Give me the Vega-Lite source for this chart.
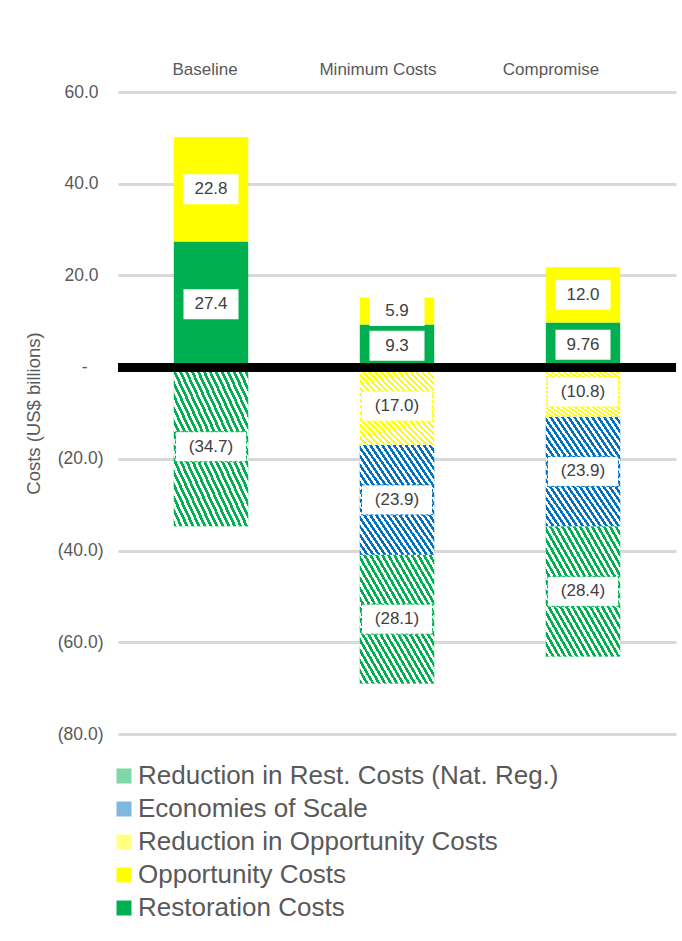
{
  "$schema": "https://vega.github.io/schema/vega-lite/v6.json",
  "autosize": "none",
  "width": 558,
  "height": 642,
  "padding": {"left": 118, "top": 92, "right": 6, "bottom": 207},
  "background": "white",
  "config": {"font": "Liberation Sans", "view": {"stroke": null}},
  "data": {"values": [
    {"scenario": "Baseline", "component": "Restoration Costs", "value": 27.4, "label": "27.4"},
    {"scenario": "Baseline", "component": "Opportunity Costs", "value": 22.8, "label": "22.8"},
    {"scenario": "Baseline", "component": "Reduction in Rest. Costs (Nat. Reg.)", "value": -34.7, "label": "(34.7)"},
    {"scenario": "Minimum Costs", "component": "Restoration Costs", "value": 9.3, "label": "9.3"},
    {"scenario": "Minimum Costs", "component": "Opportunity Costs", "value": 5.9, "label": "5.9"},
    {"scenario": "Minimum Costs", "component": "Reduction in Opportunity Costs", "value": -17.0, "label": "(17.0)"},
    {"scenario": "Minimum Costs", "component": "Economies of Scale", "value": -23.9, "label": "(23.9)"},
    {"scenario": "Minimum Costs", "component": "Reduction in Rest. Costs (Nat. Reg.)", "value": -28.1, "label": "(28.1)"},
    {"scenario": "Compromise", "component": "Restoration Costs", "value": 9.76, "label": "9.76"},
    {"scenario": "Compromise", "component": "Opportunity Costs", "value": 12.0, "label": "12.0"},
    {"scenario": "Compromise", "component": "Reduction in Opportunity Costs", "value": -10.8, "label": "(10.8)"},
    {"scenario": "Compromise", "component": "Economies of Scale", "value": -23.9, "label": "(23.9)"},
    {"scenario": "Compromise", "component": "Reduction in Rest. Costs (Nat. Reg.)", "value": -28.4, "label": "(28.4)"}
  ]},
  "transform": [
    {"calculate": "indexof(['Reduction in Rest. Costs (Nat. Reg.)','Economies of Scale','Reduction in Opportunity Costs','Opportunity Costs','Restoration Costs'], datum.component)", "as": "ord"},
    {"stack": "value", "groupby": ["scenario"], "sort": [{"field": "ord", "order": "descending"}], "as": ["y0", "y1"]},
    {"calculate": "(datum.y0 + datum.y1) / 2", "as": "mid"}
  ],
  "encoding": {
    "x": {
      "field": "scenario", "type": "nominal", "sort": ["Baseline", "Minimum Costs", "Compromise"],
      "scale": {"paddingInner": 0.6, "paddingOuter": 0.3},
      "axis": {"orient": "top", "title": null, "domain": false, "ticks": false, "labelAngle": 0,
        "labelFontSize": 17, "labelColor": "#595959", "labelPadding": 18, "labelBaseline": "alphabetic",
        "labelOffset": {"expr": "datum.value == 'Baseline' ? -6 : datum.value == 'Minimum Costs' ? -19 : -32"}}
    }
  },
  "layer": [
    {
      "mark": {"type": "bar", "strokeWidth": 0},
      "encoding": {
        "y": {"field": "y0", "type": "quantitative",
          "scale": {"domain": [-80, 60], "nice": false, "zero": false},
          "axis": {"values": [-80, -60, -40, -20, 0, 20, 40, 60], "domain": false, "ticks": false,
            "grid": true, "gridColor": "#d9d9d9", "gridWidth": 3,
            "labelFontSize": 17.5, "labelColor": "#595959",
            "labelPadding": {"expr": "datum.value == 0 ? 31 : datum.value > 0 ? 20 : 15"},
            "labelExpr": "datum.value == 0 ? '-' : datum.value < 0 ? '(' + format(-datum.value, '.1f') + ')' : format(datum.value, '.1f')",
            "title": "Costs (US$ billions)", "titleFontSize": 18.5, "titleFontWeight": "normal", "titleColor": "#595959",
            "titleX": -85, "titleBaseline": "middle"}},
        "y2": {"field": "y1"},
        "color": {
          "field": "component", "type": "nominal",
          "scale": {
            "domain": ["Reduction in Rest. Costs (Nat. Reg.)", "Economies of Scale", "Reduction in Opportunity Costs", "Opportunity Costs", "Restoration Costs"],
            "range": ["#7fd7a7", "#7fb7df", "#ffff80", "#FFFF00", "#00B050"]
          },
          "legend": {"orient": "none", "legendX": -7, "legendY": 671, "title": null,
            "labelFontSize": 26, "labelColor": "#595959", "labelLimit": 700,
            "symbolType": "square", "symbolSize": 225, "symbolStrokeWidth": 0,
            "rowPadding": 7, "labelOffset": 1, "padding": 0}
        }
      }
    },
    {
      "transform": [{"filter": "datum.component == 'Reduction in Rest. Costs (Nat. Reg.)'"}],
      "mark": {"type": "bar", "strokeWidth": 0, "color": {"gradient": "linear", "x1": 0, "y1": 1, "x2": 1, "y2": 0, "stops": [
                {"offset":0,"color":"#00B050"},{"offset":0.02,"color":"#00B050"},{"offset":0.02,"color":"#fff"},{"offset":0.04,"color":"#fff"},
                {"offset":0.04,"color":"#00B050"},{"offset":0.06,"color":"#00B050"},{"offset":0.06,"color":"#fff"},{"offset":0.08,"color":"#fff"},
                {"offset":0.08,"color":"#00B050"},{"offset":0.1,"color":"#00B050"},{"offset":0.1,"color":"#fff"},{"offset":0.12,"color":"#fff"},
                {"offset":0.12,"color":"#00B050"},{"offset":0.14,"color":"#00B050"},{"offset":0.14,"color":"#fff"},{"offset":0.16,"color":"#fff"},
                {"offset":0.16,"color":"#00B050"},{"offset":0.18,"color":"#00B050"},{"offset":0.18,"color":"#fff"},{"offset":0.2,"color":"#fff"},
                {"offset":0.2,"color":"#00B050"},{"offset":0.22,"color":"#00B050"},{"offset":0.22,"color":"#fff"},{"offset":0.24,"color":"#fff"},
                {"offset":0.24,"color":"#00B050"},{"offset":0.26,"color":"#00B050"},{"offset":0.26,"color":"#fff"},{"offset":0.28,"color":"#fff"},
                {"offset":0.28,"color":"#00B050"},{"offset":0.3,"color":"#00B050"},{"offset":0.3,"color":"#fff"},{"offset":0.32,"color":"#fff"},
                {"offset":0.32,"color":"#00B050"},{"offset":0.34,"color":"#00B050"},{"offset":0.34,"color":"#fff"},{"offset":0.36,"color":"#fff"},
                {"offset":0.36,"color":"#00B050"},{"offset":0.38,"color":"#00B050"},{"offset":0.38,"color":"#fff"},{"offset":0.4,"color":"#fff"},
                {"offset":0.4,"color":"#00B050"},{"offset":0.42,"color":"#00B050"},{"offset":0.42,"color":"#fff"},{"offset":0.44,"color":"#fff"},
                {"offset":0.44,"color":"#00B050"},{"offset":0.46,"color":"#00B050"},{"offset":0.46,"color":"#fff"},{"offset":0.48,"color":"#fff"},
                {"offset":0.48,"color":"#00B050"},{"offset":0.5,"color":"#00B050"},{"offset":0.5,"color":"#fff"},{"offset":0.52,"color":"#fff"},
                {"offset":0.52,"color":"#00B050"},{"offset":0.54,"color":"#00B050"},{"offset":0.54,"color":"#fff"},{"offset":0.56,"color":"#fff"},
                {"offset":0.56,"color":"#00B050"},{"offset":0.58,"color":"#00B050"},{"offset":0.58,"color":"#fff"},{"offset":0.6,"color":"#fff"},
                {"offset":0.6,"color":"#00B050"},{"offset":0.62,"color":"#00B050"},{"offset":0.62,"color":"#fff"},{"offset":0.64,"color":"#fff"},
                {"offset":0.64,"color":"#00B050"},{"offset":0.66,"color":"#00B050"},{"offset":0.66,"color":"#fff"},{"offset":0.68,"color":"#fff"},
                {"offset":0.68,"color":"#00B050"},{"offset":0.7,"color":"#00B050"},{"offset":0.7,"color":"#fff"},{"offset":0.72,"color":"#fff"},
                {"offset":0.72,"color":"#00B050"},{"offset":0.74,"color":"#00B050"},{"offset":0.74,"color":"#fff"},{"offset":0.76,"color":"#fff"},
                {"offset":0.76,"color":"#00B050"},{"offset":0.78,"color":"#00B050"},{"offset":0.78,"color":"#fff"},{"offset":0.8,"color":"#fff"},
                {"offset":0.8,"color":"#00B050"},{"offset":0.82,"color":"#00B050"},{"offset":0.82,"color":"#fff"},{"offset":0.84,"color":"#fff"},
                {"offset":0.84,"color":"#00B050"},{"offset":0.86,"color":"#00B050"},{"offset":0.86,"color":"#fff"},{"offset":0.88,"color":"#fff"},
                {"offset":0.88,"color":"#00B050"},{"offset":0.9,"color":"#00B050"},{"offset":0.9,"color":"#fff"},{"offset":0.92,"color":"#fff"},
                {"offset":0.92,"color":"#00B050"},{"offset":0.94,"color":"#00B050"},{"offset":0.94,"color":"#fff"},{"offset":0.96,"color":"#fff"},
                {"offset":0.96,"color":"#00B050"},{"offset":0.98,"color":"#00B050"},{"offset":0.98,"color":"#fff"},{"offset":1,"color":"#fff"}
              ]}},
      "encoding": {"y": {"field": "y0", "type": "quantitative"}, "y2": {"field": "y1"}}
    },
    {
      "transform": [{"filter": "datum.component == 'Economies of Scale'"}],
      "mark": {"type": "bar", "strokeWidth": 0, "color": {"gradient": "linear", "x1": 0, "y1": 1, "x2": 1, "y2": 0, "stops": [
                {"offset":0,"color":"#0070C0"},{"offset":0.02,"color":"#0070C0"},{"offset":0.02,"color":"#fff"},{"offset":0.04,"color":"#fff"},
                {"offset":0.04,"color":"#0070C0"},{"offset":0.06,"color":"#0070C0"},{"offset":0.06,"color":"#fff"},{"offset":0.08,"color":"#fff"},
                {"offset":0.08,"color":"#0070C0"},{"offset":0.1,"color":"#0070C0"},{"offset":0.1,"color":"#fff"},{"offset":0.12,"color":"#fff"},
                {"offset":0.12,"color":"#0070C0"},{"offset":0.14,"color":"#0070C0"},{"offset":0.14,"color":"#fff"},{"offset":0.16,"color":"#fff"},
                {"offset":0.16,"color":"#0070C0"},{"offset":0.18,"color":"#0070C0"},{"offset":0.18,"color":"#fff"},{"offset":0.2,"color":"#fff"},
                {"offset":0.2,"color":"#0070C0"},{"offset":0.22,"color":"#0070C0"},{"offset":0.22,"color":"#fff"},{"offset":0.24,"color":"#fff"},
                {"offset":0.24,"color":"#0070C0"},{"offset":0.26,"color":"#0070C0"},{"offset":0.26,"color":"#fff"},{"offset":0.28,"color":"#fff"},
                {"offset":0.28,"color":"#0070C0"},{"offset":0.3,"color":"#0070C0"},{"offset":0.3,"color":"#fff"},{"offset":0.32,"color":"#fff"},
                {"offset":0.32,"color":"#0070C0"},{"offset":0.34,"color":"#0070C0"},{"offset":0.34,"color":"#fff"},{"offset":0.36,"color":"#fff"},
                {"offset":0.36,"color":"#0070C0"},{"offset":0.38,"color":"#0070C0"},{"offset":0.38,"color":"#fff"},{"offset":0.4,"color":"#fff"},
                {"offset":0.4,"color":"#0070C0"},{"offset":0.42,"color":"#0070C0"},{"offset":0.42,"color":"#fff"},{"offset":0.44,"color":"#fff"},
                {"offset":0.44,"color":"#0070C0"},{"offset":0.46,"color":"#0070C0"},{"offset":0.46,"color":"#fff"},{"offset":0.48,"color":"#fff"},
                {"offset":0.48,"color":"#0070C0"},{"offset":0.5,"color":"#0070C0"},{"offset":0.5,"color":"#fff"},{"offset":0.52,"color":"#fff"},
                {"offset":0.52,"color":"#0070C0"},{"offset":0.54,"color":"#0070C0"},{"offset":0.54,"color":"#fff"},{"offset":0.56,"color":"#fff"},
                {"offset":0.56,"color":"#0070C0"},{"offset":0.58,"color":"#0070C0"},{"offset":0.58,"color":"#fff"},{"offset":0.6,"color":"#fff"},
                {"offset":0.6,"color":"#0070C0"},{"offset":0.62,"color":"#0070C0"},{"offset":0.62,"color":"#fff"},{"offset":0.64,"color":"#fff"},
                {"offset":0.64,"color":"#0070C0"},{"offset":0.66,"color":"#0070C0"},{"offset":0.66,"color":"#fff"},{"offset":0.68,"color":"#fff"},
                {"offset":0.68,"color":"#0070C0"},{"offset":0.7,"color":"#0070C0"},{"offset":0.7,"color":"#fff"},{"offset":0.72,"color":"#fff"},
                {"offset":0.72,"color":"#0070C0"},{"offset":0.74,"color":"#0070C0"},{"offset":0.74,"color":"#fff"},{"offset":0.76,"color":"#fff"},
                {"offset":0.76,"color":"#0070C0"},{"offset":0.78,"color":"#0070C0"},{"offset":0.78,"color":"#fff"},{"offset":0.8,"color":"#fff"},
                {"offset":0.8,"color":"#0070C0"},{"offset":0.82,"color":"#0070C0"},{"offset":0.82,"color":"#fff"},{"offset":0.84,"color":"#fff"},
                {"offset":0.84,"color":"#0070C0"},{"offset":0.86,"color":"#0070C0"},{"offset":0.86,"color":"#fff"},{"offset":0.88,"color":"#fff"},
                {"offset":0.88,"color":"#0070C0"},{"offset":0.9,"color":"#0070C0"},{"offset":0.9,"color":"#fff"},{"offset":0.92,"color":"#fff"},
                {"offset":0.92,"color":"#0070C0"},{"offset":0.94,"color":"#0070C0"},{"offset":0.94,"color":"#fff"},{"offset":0.96,"color":"#fff"},
                {"offset":0.96,"color":"#0070C0"},{"offset":0.98,"color":"#0070C0"},{"offset":0.98,"color":"#fff"},{"offset":1,"color":"#fff"}
              ]}},
      "encoding": {"y": {"field": "y0", "type": "quantitative"}, "y2": {"field": "y1"}}
    },
    {
      "transform": [{"filter": "datum.component == 'Reduction in Opportunity Costs'"}],
      "mark": {"type": "bar", "strokeWidth": 0, "color": {"gradient": "linear", "x1": 0, "y1": 1, "x2": 1, "y2": 0, "stops": [
                {"offset":0,"color":"#FFFF00"},{"offset":0.02,"color":"#FFFF00"},{"offset":0.02,"color":"#fff"},{"offset":0.04,"color":"#fff"},
                {"offset":0.04,"color":"#FFFF00"},{"offset":0.06,"color":"#FFFF00"},{"offset":0.06,"color":"#fff"},{"offset":0.08,"color":"#fff"},
                {"offset":0.08,"color":"#FFFF00"},{"offset":0.1,"color":"#FFFF00"},{"offset":0.1,"color":"#fff"},{"offset":0.12,"color":"#fff"},
                {"offset":0.12,"color":"#FFFF00"},{"offset":0.14,"color":"#FFFF00"},{"offset":0.14,"color":"#fff"},{"offset":0.16,"color":"#fff"},
                {"offset":0.16,"color":"#FFFF00"},{"offset":0.18,"color":"#FFFF00"},{"offset":0.18,"color":"#fff"},{"offset":0.2,"color":"#fff"},
                {"offset":0.2,"color":"#FFFF00"},{"offset":0.22,"color":"#FFFF00"},{"offset":0.22,"color":"#fff"},{"offset":0.24,"color":"#fff"},
                {"offset":0.24,"color":"#FFFF00"},{"offset":0.26,"color":"#FFFF00"},{"offset":0.26,"color":"#fff"},{"offset":0.28,"color":"#fff"},
                {"offset":0.28,"color":"#FFFF00"},{"offset":0.3,"color":"#FFFF00"},{"offset":0.3,"color":"#fff"},{"offset":0.32,"color":"#fff"},
                {"offset":0.32,"color":"#FFFF00"},{"offset":0.34,"color":"#FFFF00"},{"offset":0.34,"color":"#fff"},{"offset":0.36,"color":"#fff"},
                {"offset":0.36,"color":"#FFFF00"},{"offset":0.38,"color":"#FFFF00"},{"offset":0.38,"color":"#fff"},{"offset":0.4,"color":"#fff"},
                {"offset":0.4,"color":"#FFFF00"},{"offset":0.42,"color":"#FFFF00"},{"offset":0.42,"color":"#fff"},{"offset":0.44,"color":"#fff"},
                {"offset":0.44,"color":"#FFFF00"},{"offset":0.46,"color":"#FFFF00"},{"offset":0.46,"color":"#fff"},{"offset":0.48,"color":"#fff"},
                {"offset":0.48,"color":"#FFFF00"},{"offset":0.5,"color":"#FFFF00"},{"offset":0.5,"color":"#fff"},{"offset":0.52,"color":"#fff"},
                {"offset":0.52,"color":"#FFFF00"},{"offset":0.54,"color":"#FFFF00"},{"offset":0.54,"color":"#fff"},{"offset":0.56,"color":"#fff"},
                {"offset":0.56,"color":"#FFFF00"},{"offset":0.58,"color":"#FFFF00"},{"offset":0.58,"color":"#fff"},{"offset":0.6,"color":"#fff"},
                {"offset":0.6,"color":"#FFFF00"},{"offset":0.62,"color":"#FFFF00"},{"offset":0.62,"color":"#fff"},{"offset":0.64,"color":"#fff"},
                {"offset":0.64,"color":"#FFFF00"},{"offset":0.66,"color":"#FFFF00"},{"offset":0.66,"color":"#fff"},{"offset":0.68,"color":"#fff"},
                {"offset":0.68,"color":"#FFFF00"},{"offset":0.7,"color":"#FFFF00"},{"offset":0.7,"color":"#fff"},{"offset":0.72,"color":"#fff"},
                {"offset":0.72,"color":"#FFFF00"},{"offset":0.74,"color":"#FFFF00"},{"offset":0.74,"color":"#fff"},{"offset":0.76,"color":"#fff"},
                {"offset":0.76,"color":"#FFFF00"},{"offset":0.78,"color":"#FFFF00"},{"offset":0.78,"color":"#fff"},{"offset":0.8,"color":"#fff"},
                {"offset":0.8,"color":"#FFFF00"},{"offset":0.82,"color":"#FFFF00"},{"offset":0.82,"color":"#fff"},{"offset":0.84,"color":"#fff"},
                {"offset":0.84,"color":"#FFFF00"},{"offset":0.86,"color":"#FFFF00"},{"offset":0.86,"color":"#fff"},{"offset":0.88,"color":"#fff"},
                {"offset":0.88,"color":"#FFFF00"},{"offset":0.9,"color":"#FFFF00"},{"offset":0.9,"color":"#fff"},{"offset":0.92,"color":"#fff"},
                {"offset":0.92,"color":"#FFFF00"},{"offset":0.94,"color":"#FFFF00"},{"offset":0.94,"color":"#fff"},{"offset":0.96,"color":"#fff"},
                {"offset":0.96,"color":"#FFFF00"},{"offset":0.98,"color":"#FFFF00"},{"offset":0.98,"color":"#fff"},{"offset":1,"color":"#fff"}
              ]}},
      "encoding": {"y": {"field": "y0", "type": "quantitative"}, "y2": {"field": "y1"}}
    },
    {
      "mark": {"type": "rule", "color": "black", "strokeWidth": 8},
      "encoding": {"y": {"datum": 0}, "x": {"value": 0}, "x2": {"value": 558}}
    },
    {
      "transform": [{"filter": "datum.value > 0"}],
      "mark": {"type": "point", "shape": "M-1,-0.545L1,-0.545L1,0.545L-1,0.545Z", "size": 3025, "filled": true, "fill": "white", "opacity": 1, "strokeWidth": 0},
      "encoding": {"y": {"field": "mid", "type": "quantitative"}}
    },
    {
      "transform": [{"filter": "datum.value < 0"}],
      "mark": {"type": "point", "shape": "M-1,-0.4225L1,-0.4225L1,0.4225L-1,0.4225Z", "size": 5041, "filled": true, "fill": "white", "opacity": 1, "strokeWidth": 1, "strokeDash": [3, 2]},
      "encoding": {
        "y": {"field": "mid", "type": "quantitative"},
        "stroke": {"field": "component", "type": "nominal", "legend": null,
          "scale": {"domain": ["Reduction in Rest. Costs (Nat. Reg.)", "Economies of Scale", "Reduction in Opportunity Costs"],
                    "range": ["#00B050", "#0070C0", "#FFFF00"]}}
      }
    },
    {
      "mark": {"type": "text", "fontSize": 17, "color": "#404040", "align": "center", "baseline": "middle"},
      "encoding": {"y": {"field": "mid", "type": "quantitative"}, "text": {"field": "label"}}
    }
  ]
}
